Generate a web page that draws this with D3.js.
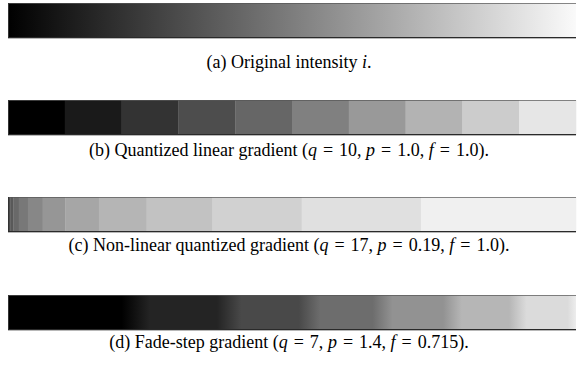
<!DOCTYPE html>
<html>
<head>
<meta charset="utf-8">
<script src="https://cdn.jsdelivr.net/npm/d3@7"></script>
<style>
  body { margin: 0; background: #fff; }
  svg { display: block; }
</style>
</head>
<body>
<svg id="chart" width="578" height="367"></svg>
<script>
// (a) plain ramp, stops as [t, intensity]
const original_stops = [[0, 0], [1, 0.98]];

// (b) ten flat steps
const linear_steps = [0, 0.1, 0.2, 0.3, 0.4, 0.5, 0.6, 0.7, 0.8, 0.9];

// (c) band start (t) and level
const nonlinear_starts = [0, 0.0016, 0.0042, 0.0094, 0.019, 0.035, 0.061, 0.101, 0.160, 0.244, 0.360, 0.517, 0.727];
const nonlinear_levels = [0.24, 0.29, 0.35, 0.41, 0.47, 0.53, 0.59, 0.65, 0.71, 0.76, 0.82, 0.88, 0.94];

// (d) fade steps, stops as [t, intensity]
const fade_stops = [
    [0, 0], [0.200, 0], [0.250, 0.143],
    [0.368, 0.143], [0.411, 0.286],
    [0.512, 0.286], [0.550, 0.429],
    [0.642, 0.429], [0.677, 0.571],
    [0.766, 0.571], [0.799, 0.714],
    [0.882, 0.714], [0.913, 0.857],
    [0.985, 0.857], [1, 0.93]
];

// caption pieces: [text, italic]; \u2004 gives the wider math spacing round "="
const eq = "\u2004=\u2004";
const captions = [
    [["(a) Original intensity ", false], ["i", true], [".", false]],
    [["(b) Quantized linear gradient (", false], ["q", true], [eq + "10, ", false], ["p", true], [eq + "1.0, ", false], ["f", true], [eq + "1.0).", false]],
    [["(c) Non-linear quantized gradient (", false], ["q", true], [eq + "17, ", false], ["p", true], [eq + "0.19, ", false], ["f", true], [eq + "1.0).", false]],
    [["(d) Fade-step gradient (", false], ["q", true], [eq + "7, ", false], ["p", true], [eq + "1.4, ", false], ["f", true], [eq + "0.715).", false]]
];

const bar_tops = [3, 100, 197, 295];
const bar_height = 35;
const caption_y = [68, 156, 251, 348];

var svg = d3.select("#chart");
var defs = svg.append("defs");
var x = d3.scaleLinear().domain([0, 1]).range([8, 576]);
var gray = v => d3.rgb(v * 255, v * 255, v * 255).toString();

function add_gradient(id, stops) {
    var g = defs.append("linearGradient").attr("id", id)
        .attr("x1", "0%").attr("x2", "100%").attr("y1", "0%").attr("y2", "0%");
    g.selectAll("stop").data(stops).enter().append("stop")
        .attr("offset", d => (d[0] * 100) + "%")
        .attr("stop-color", d => gray(d[1]));
}

function draw_bands(row, starts, levels) {
    var g = svg.append("g");
    g.selectAll("rect").data(levels).enter().append("rect")
        .attr("x", (d, i) => x(starts[i]))
        .attr("width", (d, i) => x(i + 1 < starts.length ? starts[i + 1] : 1) - x(starts[i]) + 0.3)
        .attr("y", bar_tops[row])
        .attr("height", bar_height)
        .attr("fill", d => gray(d));
}

add_gradient("grad_a", original_stops);
add_gradient("grad_d", fade_stops);

svg.append("rect").attr("x", x(0)).attr("width", x(1) - x(0))
    .attr("y", bar_tops[0]).attr("height", bar_height).attr("fill", "url(#grad_a)");

draw_bands(1, linear_steps.map((d, i) => i / linear_steps.length), linear_steps);
draw_bands(2, nonlinear_starts, nonlinear_levels);

svg.append("rect").attr("x", x(0)).attr("width", x(1) - x(0))
    .attr("y", bar_tops[3]).attr("height", bar_height).attr("fill", "url(#grad_d)");

// screenshot-like edges: light top, dark left and bottom
bar_tops.forEach(top => {
    var edges = svg.append("g").attr("shape-rendering", "crispEdges");
    edges.append("rect").attr("x", x(0)).attr("y", top).attr("width", x(1) - x(0)).attr("height", 1)
        .attr("fill", "#555").attr("opacity", 0.7);
    edges.append("rect").attr("x", x(0)).attr("y", top).attr("width", 1).attr("height", bar_height)
        .attr("fill", "#333");
    edges.append("rect").attr("x", x(0)).attr("y", top + bar_height - 1).attr("width", x(1) - x(0)).attr("height", 1)
        .attr("fill", "#2a2a2a");
    edges.append("rect").attr("x", x(0)).attr("y", top + bar_height).attr("width", x(1) - x(0)).attr("height", 1)
        .attr("fill", "#888").attr("opacity", 0.6);
});

captions.forEach((parts, i) => {
    var t = svg.append("text")
        .attr("x", 289).attr("y", caption_y[i])
        .attr("text-anchor", "middle")
        .attr("font-family", "'Liberation Serif', 'Times New Roman', serif")
        .attr("font-size", 18)
        .attr("fill", "#000")
        .attr("xml:space", "preserve");
    parts.forEach(p => {
        t.append("tspan").text(p[0]).attr("font-style", p[1] ? "italic" : null);
    });
});
</script>
</body>
</html>
